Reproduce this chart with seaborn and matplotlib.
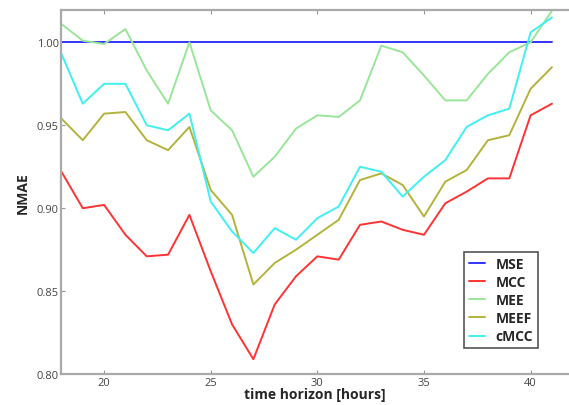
import seaborn as sns
import matplotlib.pyplot as plt
import pandas as pd

sns.set_style("ticks")
plt.rcParams['font.family'] = ['Open Sans', 'DejaVu Sans']

# time horizon in hours
hours = list(range(18, 42))

mse = [1.000] * 24
mcc = [0.922, 0.900, 0.902, 0.884, 0.871, 0.872, 0.896, 0.862, 0.830, 0.809, 0.842, 0.859,
       0.871, 0.869, 0.890, 0.892, 0.887, 0.884, 0.903, 0.910, 0.918, 0.918, 0.956, 0.963]
mee = [1.011, 1.001, 0.999, 1.008, 0.983, 0.963, 1.000, 0.959, 0.947, 0.919, 0.931, 0.948,
       0.956, 0.955, 0.965, 0.998, 0.994, 0.980, 0.965, 0.965, 0.981, 0.994, 1.000, 1.019]
meef = [0.954, 0.941, 0.957, 0.958, 0.941, 0.935, 0.949, 0.911, 0.896, 0.854, 0.867, 0.875,
        0.884, 0.893, 0.917, 0.921, 0.914, 0.895, 0.916, 0.923, 0.941, 0.944, 0.972, 0.985]
cmcc = [0.993, 0.963, 0.975, 0.975, 0.950, 0.947, 0.957, 0.904, 0.886, 0.873, 0.888, 0.881,
        0.894, 0.901, 0.925, 0.922, 0.907, 0.919, 0.929, 0.949, 0.956, 0.960, 1.006, 1.015]

names = ["MSE", "MCC", "MEE", "MEEF", "cMCC"]
series = [mse, mcc, mee, meef, cmcc]
colors = {"MSE": "#3333ff", "MCC": "#ff3333", "MEE": "#99e699",
          "MEEF": "#b3b33c", "cMCC": "#40f0f0"}

df = pd.concat([pd.DataFrame({"hour": hours, "NMAE": s, "method": n})
                for n, s in zip(names, series)], ignore_index=True)

fig = plt.figure(figsize=(5.69, 4.06), dpi=100)
ax = fig.add_axes([0.108, 0.076, 0.892, 0.897])

sns.lineplot(data=df, x="hour", y="NMAE", hue="method", palette=colors,
             linewidth=1.4, ax=ax, legend=True)

ax.set_xlim(18, 41.8)
ax.set_ylim(0.80, 1.0195)
ax.set_xticks([20, 25, 30, 35, 40])
ax.set_yticks([0.80, 0.85, 0.90, 0.95, 1.00])
ax.set_yticklabels(["0.80", "0.85", "0.90", "0.95", "1.00"])
ax.tick_params(direction="in", length=3, labelsize=8, labelcolor="#444444",
               color="#999999", top=True, right=False, pad=2)
for side in ["top", "bottom", "left"]:
    ax.spines[side].set_color("#aaaaaa")
    ax.spines[side].set_linewidth(1.6)
ax.spines["right"].set_visible(False)

ax.set_xlabel("time horizon [hours]", fontsize=10, fontweight="bold", labelpad=-1)
ax.set_ylabel("NMAE", fontsize=10, fontweight="bold", labelpad=5)

handles, labels = ax.get_legend_handles_labels()
leg = ax.legend(handles=handles, labels=labels, loc="lower right",
                bbox_to_anchor=(0.939, 0.071), borderaxespad=0, fancybox=False,
                framealpha=1, handlelength=1.1, handletextpad=0.8, borderpad=0.35,
                labelspacing=0.3, prop={"weight": "bold", "size": 10})
leg.get_frame().set_edgecolor("#555555")
leg.get_frame().set_linewidth(1.2)

fig.savefig("out.png", dpi=100)
